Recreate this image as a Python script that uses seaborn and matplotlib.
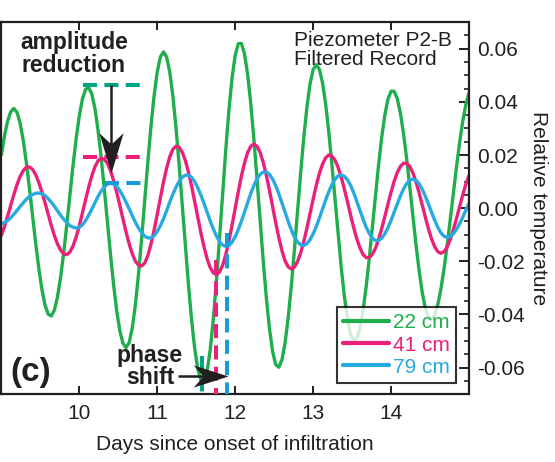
import numpy as np
import pandas as pd
import matplotlib
matplotlib.use("Agg")
import matplotlib.pyplot as plt
from matplotlib.ticker import MultipleLocator
from matplotlib.path import Path
from matplotlib.markers import MarkerStyle
import seaborn as sns

DAY_START = 9.0
DAY_STEP = 0.04
depth_labels = ["22 cm", "41 cm", "79 cm"]

temp_22cm = [
    0.0200, 0.0273, 0.0328, 0.0363, 0.0375, 0.0361, 0.0320, 0.0256, 0.0172, 0.0075,
    -0.0029, -0.0132, -0.0226, -0.0306, -0.0365, -0.0399, -0.0406, -0.0384, -0.0334, -0.0260,
    -0.0167, -0.0060, 0.0052, 0.0163, 0.0263, 0.0348, 0.0411, 0.0447, 0.0454, 0.0430,
    0.0376, 0.0294, 0.0192, 0.0074, -0.0051, -0.0174, -0.0289, -0.0387, -0.0462, -0.0509,
    -0.0525, -0.0506, -0.0450, -0.0362, -0.0247, -0.0113, 0.0031, 0.0176, 0.0310, 0.0425,
    0.0513, 0.0569, 0.0588, 0.0569, 0.0513, 0.0423, 0.0305, 0.0166, 0.0015, -0.0139,
    -0.0287, -0.0419, -0.0527, -0.0605, -0.0647, -0.0652, -0.0613, -0.0533, -0.0416, -0.0272,
    -0.0110, 0.0059, 0.0223, 0.0370, 0.0490, 0.0575, 0.0619, 0.0620, 0.0580, 0.0503,
    0.0394, 0.0260, 0.0110, -0.0046, -0.0199, -0.0338, -0.0454, -0.0539, -0.0589, -0.0599,
    -0.0571, -0.0508, -0.0413, -0.0294, -0.0157, -0.0012, 0.0132, 0.0265, 0.0379, 0.0467,
    0.0521, 0.0540, 0.0523, 0.0473, 0.0394, 0.0290, 0.0168, 0.0037, -0.0096, -0.0221,
    -0.0330, -0.0416, -0.0474, -0.0499, -0.0491, -0.0453, -0.0387, -0.0298, -0.0191, -0.0073,
    0.0047, 0.0163, 0.0266, 0.0350, 0.0410, 0.0440, 0.0440, 0.0412, 0.0358, 0.0281,
    0.0187, 0.0081, -0.0029, -0.0137, -0.0235, -0.0317, -0.0377, -0.0412, -0.0419, -0.0402,
    -0.0363, -0.0304, -0.0228, -0.0140, -0.0043, 0.0058, 0.0156, 0.0247, 0.0327, 0.0390,
    0.0434,
]

temp_41cm = [
    -0.0102, -0.0069, -0.0030, 0.0011, 0.0051, 0.0088, 0.0119, 0.0141, 0.0154, 0.0155,
    0.0146, 0.0126, 0.0097, 0.0061, 0.0020, -0.0023, -0.0065, -0.0103, -0.0135, -0.0158,
    -0.0172, -0.0175, -0.0165, -0.0142, -0.0108, -0.0066, -0.0018, 0.0031, 0.0079, 0.0121,
    0.0155, 0.0178, 0.0188, 0.0184, 0.0169, 0.0141, 0.0104, 0.0059, 0.0010, -0.0041,
    -0.0090, -0.0135, -0.0172, -0.0200, -0.0215, -0.0218, -0.0206, -0.0178, -0.0135, -0.0083,
    -0.0023, 0.0038, 0.0098, 0.0150, 0.0193, 0.0221, 0.0233, 0.0230, 0.0211, 0.0180,
    0.0136, 0.0084, 0.0026, -0.0034, -0.0093, -0.0146, -0.0191, -0.0224, -0.0244, -0.0250,
    -0.0240, -0.0214, -0.0174, -0.0123, -0.0064, -0.0001, 0.0062, 0.0121, 0.0170, 0.0209,
    0.0233, 0.0241, 0.0233, 0.0210, 0.0172, 0.0124, 0.0067, 0.0006, -0.0055, -0.0111,
    -0.0160, -0.0198, -0.0221, -0.0229, -0.0222, -0.0201, -0.0169, -0.0126, -0.0076, -0.0021,
    0.0033, 0.0085, 0.0130, 0.0165, 0.0189, 0.0200, 0.0196, 0.0181, 0.0154, 0.0117,
    0.0073, 0.0025, -0.0025, -0.0073, -0.0115, -0.0149, -0.0174, -0.0186, -0.0186, -0.0174,
    -0.0151, -0.0118, -0.0077, -0.0032, 0.0015, 0.0060, 0.0101, 0.0134, 0.0157, 0.0169,
    0.0169, 0.0157, 0.0133, 0.0099, 0.0058, 0.0012, -0.0034, -0.0078, -0.0116, -0.0145,
    -0.0164, -0.0170, -0.0164, -0.0146, -0.0118, -0.0081, -0.0039, 0.0006, 0.0050, 0.0090,
    0.0123,
]

temp_79cm = [
    -0.0059, -0.0054, -0.0047, -0.0036, -0.0023, -0.0009, 0.0006, 0.0020, 0.0033, 0.0044,
    0.0051, 0.0056, 0.0057, 0.0054, 0.0047, 0.0036, 0.0022, 0.0007, -0.0010, -0.0027,
    -0.0042, -0.0055, -0.0066, -0.0072, -0.0075, -0.0072, -0.0063, -0.0047, -0.0027, -0.0004,
    0.0020, 0.0044, 0.0064, 0.0080, 0.0090, 0.0094, 0.0091, 0.0081, 0.0066, 0.0046,
    0.0022, -0.0003, -0.0029, -0.0054, -0.0075, -0.0093, -0.0106, -0.0112, -0.0112, -0.0104,
    -0.0088, -0.0066, -0.0040, -0.0010, 0.0022, 0.0052, 0.0078, 0.0100, 0.0116, 0.0124,
    0.0124, 0.0116, 0.0100, 0.0077, 0.0049, 0.0018, -0.0016, -0.0049, -0.0079, -0.0105,
    -0.0126, -0.0139, -0.0144, -0.0141, -0.0128, -0.0108, -0.0081, -0.0049, -0.0015, 0.0021,
    0.0055, 0.0085, 0.0110, 0.0127, 0.0136, 0.0136, 0.0127, 0.0109, 0.0085, 0.0054,
    0.0020, -0.0015, -0.0050, -0.0082, -0.0108, -0.0127, -0.0138, -0.0141, -0.0134, -0.0119,
    -0.0097, -0.0070, -0.0038, -0.0004, 0.0030, 0.0061, 0.0088, 0.0108, 0.0121, 0.0125,
    0.0120, 0.0107, 0.0086, 0.0058, 0.0026, -0.0007, -0.0041, -0.0071, -0.0095, -0.0113,
    -0.0122, -0.0122, -0.0113, -0.0097, -0.0074, -0.0046, -0.0015, 0.0017, 0.0046, 0.0072,
    0.0092, 0.0105, 0.0109, 0.0105, 0.0092, 0.0071, 0.0045, 0.0015, -0.0016, -0.0046,
    -0.0072, -0.0093, -0.0106, -0.0110, -0.0107, -0.0096, -0.0080, -0.0059, -0.0034, -0.0007,
    0.0019,
]

# annotation readings (amplitude levels and trough times)
amp_levels = [0.0462, 0.0194, 0.0096]      # 22, 41, 79 cm peak levels marked
trough_days = [11.58, 11.753, 11.893]      # 22, 41, 79 cm trough times marked
trough_tops = [-0.0555, -0.0195, -0.0093]

x_ticks = [10, 11, 12, 13, 14]
y_ticks = [-0.06, -0.04, -0.02, 0.0, 0.02, 0.04, 0.06]
y_ticklabels = ["-0.06", "-0.04", "-0.02", "0.00", "0.02", "0.04", "0.06"]

# ---- build table ----
series = [temp_22cm, temp_41cm, temp_79cm]
frames = []
for lab, vals in zip(depth_labels, series):
    d = DAY_START + DAY_STEP * np.arange(len(vals))
    frames.append(pd.DataFrame({"day": d, "val": vals, "depth": lab}))
df = pd.concat(frames, ignore_index=True)

# ---- style ----
sns.set_style("white")
plt.rcParams["font.family"] = ["Liberation Sans", "DejaVu Sans"]
dark = "#231f20"
cg, cp, cb = "#1fae4b", "#ea2079", "#27a9e1"
teal, bdash = "#00a382", "#1a9bd7"

fig = plt.figure(figsize=(5.55, 4.62), dpi=100)
ax = fig.add_axes([0.0025, 0.147, 0.8425, 0.805])
sns.lineplot(data=df, x="day", y="val", hue="depth", palette=[cg, cp, cb], lw=2.4, ax=ax, legend=True)
ax.set_xlim(9, 15)
ax.set_ylim(-0.07, 0.07)
for s in ax.spines.values():
    s.set_linewidth(1.6)
    s.set_color(dark)
ax.yaxis.tick_right()
ax.yaxis.set_label_position("right")
ax.yaxis.set_minor_locator(MultipleLocator(0.005))
ax.tick_params(axis="x", which="major", direction="in", top=True, bottom=True, length=6, width=1.4,
               color=dark, labelsize=15, labelcolor=dark, pad=7)
ax.tick_params(axis="y", which="major", direction="in", right=True, left=False, length=7, width=1.4,
               color=dark, labelsize=15, labelcolor=dark, pad=6)
ax.tick_params(axis="y", which="minor", direction="in", right=True, left=False, length=3.5, width=1.2, color=dark)
ax.set_xticks(x_ticks)
ax.set_yticks(y_ticks)
ax.set_yticklabels(y_ticklabels)
ax.set_xlabel("Days since onset of infiltration", fontsize=15, color=dark, labelpad=9)
ax.set_ylabel("Relative temperature", fontsize=15, color=dark, rotation=270, va="bottom", labelpad=3)

leg = ax.legend(loc="lower right", bbox_to_anchor=(0.972, 0.03), borderaxespad=0, fontsize=15,
                frameon=True, fancybox=False, edgecolor="black", handlelength=2.2, handletextpad=0.2,
                labelspacing=0.15, borderpad=0.3)
leg.get_frame().set_linewidth(1.5)
leg.set_zorder(10)
for t, c in zip(leg.get_texts(), [cg, cp, cb]):
    t.set_color(c)
for h in leg.get_lines():
    h.set_linewidth(3)

# ---- annotations ----
ds = (0, (3.5, 1.8))
ax.plot([10.047, 10.797], [amp_levels[0]] * 2, color=teal, lw=2.9, ls=ds, zorder=5)
ax.plot([10.047, 10.797], [amp_levels[1]] * 2, color=cp, lw=2.9, ls=ds, zorder=5)
ax.plot([10.325, 10.797], [amp_levels[2]] * 2, color=bdash, lw=2.9, ls=ds, zorder=5)
for xd, top, col in zip(trough_days, trough_tops, [teal, cp, bdash]):
    ax.plot([xd, xd], [top, -0.07], color=col, lw=2.9, ls=ds, zorder=5)

C = Path.CLOSEPOLY
down_head = MarkerStyle(Path([(0, 0), (-0.3, 1.0), (0, 0.72), (0.3, 1.0), (0, 0)],
                             [Path.MOVETO, Path.LINETO, Path.LINETO, Path.LINETO, C]))
right_head = MarkerStyle(Path([(0, 0), (-1.0, 0.32), (-0.72, 0), (-1.0, -0.32), (0, 0)],
                              [Path.MOVETO, Path.LINETO, Path.LINETO, Path.LINETO, C]))
# amplitude arrow
ax.plot([10.406, 10.406], [amp_levels[0], 0.022], color=dark, lw=1.8, zorder=6, solid_capstyle="butt")
ax.plot([10.406], [0.0134], marker=down_head, ms=58, color=dark, mew=0, zorder=6)
# phase arrow
ax.plot([11.266, 11.70], [-0.0632, -0.0632], color=dark, lw=1.8, zorder=6, solid_capstyle="butt")
ax.plot([11.907], [-0.0632], marker=right_head, ms=50, color=dark, mew=0, zorder=6)

ax.text(9.931, 0.0665, "amplitude\nreduction", ha="center", va="top", fontsize=16.5, fontweight="bold",
        color=dark, linespacing=0.95, zorder=7)
ax.text(10.906, -0.0512, "phase\nshift", ha="center", va="top", fontsize=16.5, fontweight="bold",
        color=dark, linespacing=0.95, zorder=7)
ax.text(12.754, 0.0665, "Piezometer P2-B\nFiltered Record", ha="left", va="top", fontsize=15,
        color=dark, linespacing=0.95, zorder=7)
ax.text(9.11, -0.0678, "(c)", ha="left", va="bottom", fontsize=24, fontweight="bold", color=dark, zorder=7)

fig.savefig("out.png", dpi=100)
